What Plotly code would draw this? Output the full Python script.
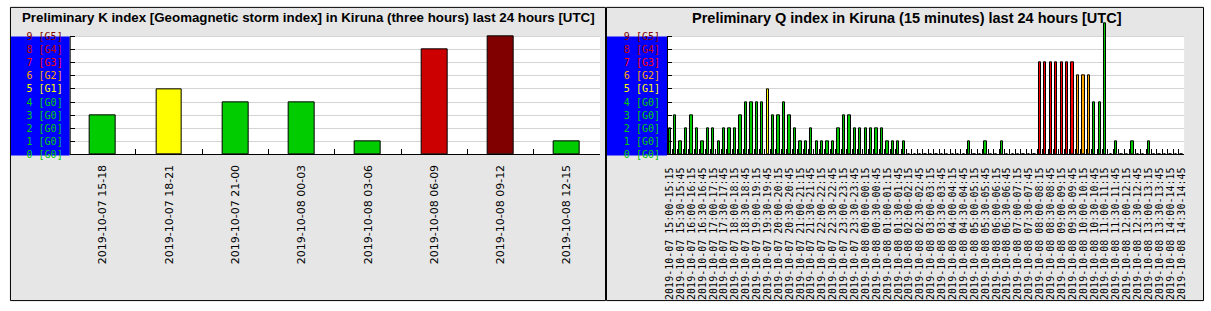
import datetime as dt
import plotly.graph_objects as go

W, H = 1211, 311

# ---------------- data ----------------
k_title = "Preliminary K index [Geomagnetic storm index] in Kiruna (three hours) last 24 hours [UTC]"
q_title = "Preliminary Q index in Kiruna (15 minutes) last 24 hours [UTC]"

k_labels = ["2019-10-07 15-18", "2019-10-07 18-21", "2019-10-07 21-00", "2019-10-08 00-03",
            "2019-10-08 03-06", "2019-10-08 06-09", "2019-10-08 09-12", "2019-10-08 12-15"]
k_values = [3, 5, 4, 4, 1, 8, 9, 1]

q_values = [2, 3, 1, 2, 3, 2, 1, 2, 2, 1,
            2, 2, 2, 3, 4, 4, 4, 4, 5, 3,
            3, 4, 3, 2, 1, 1, 2, 1, 1, 1,
            1, 2, 3, 3, 2, 2, 2, 2, 2, 2,
            1, 1, 1, 1, 0, 0, 0, 0, 0, 0,
            0, 0, 0, 0, 0, 1, 0, 0, 1, 0,
            0, 1, 0, 0, 0, 0, 0, 0, 7, 7,
            7, 7, 7, 7, 7, 6, 6, 6, 4, 4,
            10, 0, 1, 0, 0, 1, 0, 0, 1, 0,
            0, 0, 0, 0, 0]

q_start = dt.datetime(2019, 10, 7, 15, 0)
q_labels = []
for i in range(len(q_values)):
    a = q_start + dt.timedelta(minutes=15 * i)
    b = a + dt.timedelta(minutes=15)
    q_labels.append(a.strftime("%Y-%m-%d %H:%M") + "-" + b.strftime("%H:%M"))

y_vals = [0, 1, 2, 3, 4, 5, 6, 7, 8, 9]
y_texts = ["0 [G0]", "1 [G0]", "2 [G0]", "3 [G0]", "4 [G0]", "5 [G1]", "6 [G2]", "7 [G3]", "8 [G4]", "9 [G5]"]

level_colors = {9: "#800000", 8: "#cc0000", 7: "#ff0000", 6: "#ffa500", 5: "#ffff00"}
GREEN = "#00cc00"


def col(v):
    return level_colors.get(v, GREEN)


y_ticktext = ["<span style='color:%s'>%s</span>" % (col(v), t) for v, t in zip(y_vals, y_texts)]

# ---------------- layout geometry (pixels) ----------------
PLOT_TOP, PLOT_BOT = 37, 157
UNIT = (PLOT_BOT - PLOT_TOP) / 9.0
Y_MAX = 10.3
DOM_TOP = PLOT_BOT - Y_MAX * UNIT
K_L, K_R = 67, 600
Q_L, Q_R = 667.3, 1187


def px(x):
    return x / W


def py(y):
    return (H - y) / H


fig = go.Figure()

fig.add_trace(go.Bar(x=k_labels, y=k_values, xaxis="x", yaxis="y",
                     marker=dict(color=[col(v) for v in k_values], line=dict(color="black", width=1)),
                     width=0.39, hoverinfo="skip"))
fig.add_trace(go.Bar(x=q_labels, y=q_values, xaxis="x2", yaxis="y2",
                     marker=dict(color=[col(v) for v in q_values], line=dict(color="black", width=1)),
                     width=0.42, hoverinfo="skip"))

common_y = dict(range=[0, Y_MAX], tickmode="array", tickvals=y_vals, ticktext=y_ticktext,
                tickfont=dict(family="DejaVu Sans Mono", size=10),
                ticks="inside", ticklen=5, tickcolor="black",
                showline=False,
                showgrid=True, gridcolor="#d4d4d4", gridwidth=1,
                zeroline=False, fixedrange=True, ticklabelstandoff=6,
                domain=[py(PLOT_BOT), py(DOM_TOP)])

common_x = dict(type="category", ticks="inside", ticklen=5, tickcolor="black", tickson="boundaries",
                showline=True, linecolor="black", linewidth=1, showgrid=False, zeroline=False,
                tickangle=-90, fixedrange=True)

q_ticktext = [lab if i % 2 == 0 else "" for i, lab in enumerate(q_labels)]

fig.update_layout(
    width=W, height=H, autosize=False,
    margin=dict(l=0, r=0, t=0, b=0, pad=0),
    paper_bgcolor="white", plot_bgcolor="rgba(0,0,0,0)",
    showlegend=False, hovermode=False, bargap=0,
    xaxis=dict(common_x, domain=[px(K_L), px(K_R)], anchor="y", range=[-0.5, 7.5],
               tickmode="array", tickvals=k_labels, ticktext=k_labels,
               tickfont=dict(family="DejaVu Sans", size=11, color="black"), ticklabelstandoff=5),
    yaxis=dict(common_y, anchor="x"),
    xaxis2=dict(common_x, domain=[px(Q_L), px(Q_R)], anchor="y2", range=[-0.5, len(q_values) - 0.5],
                tickmode="array", tickvals=q_labels, ticktext=q_ticktext,
                tickfont=dict(family="DejaVu Sans Mono", size=10, color="black"), ticklabelstandoff=8),
    yaxis2=dict(common_y, anchor="x2"),
)

shapes = []
# panels
for x0, x1 in [(7.5, 605.5), (606.5, 1206.5)]:
    shapes.append(dict(type="rect", xref="paper", yref="paper", layer="below",
                       x0=px(x0), x1=px(x1), y0=py(305.5), y1=py(7.5),
                       fillcolor="#e6e6e6", line=dict(color="black", width=1)))
# white plot areas, blue label bands, y-axis lines
for (l, r, bl) in [(K_L, K_R, 8), (Q_L, Q_R, 607)]:
    shapes.append(dict(type="rect", xref="paper", yref="paper", layer="below",
                       x0=px(l), x1=px(r), y0=py(PLOT_BOT), y1=py(PLOT_TOP),
                       fillcolor="white", line=dict(width=0)))
    shapes.append(dict(type="rect", xref="paper", yref="paper", layer="below",
                       x0=px(bl), x1=px(l), y0=py(158), y1=py(37),
                       fillcolor="#0000ff", line=dict(width=0)))
    shapes.append(dict(type="line", xref="paper", yref="paper", layer="above",
                       x0=px(l + 0.5), x1=px(l + 0.5), y0=py(PLOT_BOT), y1=py(PLOT_TOP),
                       line=dict(color="black", width=1)))
fig.update_layout(shapes=shapes)

fig.add_annotation(text="<b>%s</b>" % k_title, xref="paper", yref="paper",
                   x=px(307), y=py(18), xanchor="center", yanchor="middle", showarrow=False,
                   font=dict(family="Liberation Sans", size=13.3, color="black"))
fig.add_annotation(text="<b>%s</b>" % q_title, xref="paper", yref="paper",
                   x=px(908), y=py(18), xanchor="center", yanchor="middle", showarrow=False,
                   font=dict(family="Liberation Sans", size=14.5, color="black"))

fig.write_html("out.html")
